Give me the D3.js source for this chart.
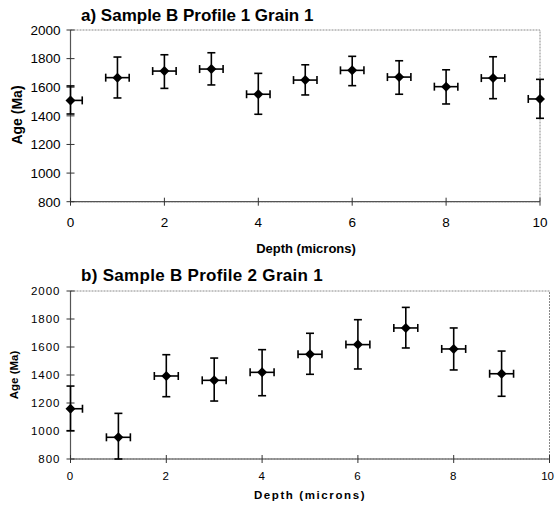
<!DOCTYPE html>
<html><head><meta charset="utf-8">
<script src="https://cdn.jsdelivr.net/npm/d3@7"></script>
<style>body{margin:0;background:#fff}svg{display:block}</style>
</head><body>
<svg id="c" width="555" height="506"></svg>
<script>
// Panel a) Sample B Profile 1 Grain 1
const depth1 = [0,1,2,3,4,5,6,7,8,9,10];
const age1   = [1508,1667,1713,1727,1551,1650,1718,1671,1604,1664,1518];
const hi1    = [1609,1811,1827,1841,1697,1757,1816,1785,1722,1813,1655];
const lo1    = [1413,1525,1592,1616,1411,1546,1611,1551,1483,1520,1383];
// Panel b) Sample B Profile 2 Grain 1
const depth2 = [0,1,2,3,4,5,6,7,8,9];
const age2   = [1159,955,1393,1362,1419,1548,1617,1736,1586,1409];
const hi2    = [1321,1126,1545,1521,1581,1698,1795,1883,1736,1571];
const lo2    = [1002,800,1245,1214,1252,1405,1443,1593,1436,1248];
const depthErr = 0.25;
const xTicks = [0,2,4,6,8,10];
const yTicks = [800,1000,1200,1400,1600,1800,2000];
const titles = ["a) Sample B Profile 1 Grain 1","b) Sample B Profile 2 Grain 1"];
const xTitle = "Depth (microns)", yTitle = "Age (Ma)";

const svg = d3.select("#c");
svg.append("rect").attr("width",555).attr("height",506).attr("fill","#fff");
const FONT = "Arial, 'Liberation Sans', sans-serif";

function panel(cfg){
  const {depth, age, hi, lo, x0, x1, y0, y1, title, titleX, titleY, tickFs, tickLs, tickW,
         xLabY, xTitleX, xTitleY, xTitleFs, xTitleLs, yTitleX, yTitleY, yTitleFs, titleFs, titleLs, lastEnd} = cfg;
  const x = d3.scaleLinear().domain([0,10]).range([x0,x1]);
  const y = d3.scaleLinear().domain([800,2000]).range([y1,y0]);
  const g = svg.append("g");
  // frame
  g.append("rect").attr("x",x0).attr("y",y0).attr("width",x1-x0).attr("height",y1-y0)
    .attr("fill","none").attr("stroke","#888").attr("stroke-width",1).attr("stroke-dasharray","2,1");
  // axes lines
  g.append("line").attr("x1",x0).attr("x2",x0).attr("y1",y0).attr("y2",y1).attr("stroke","#555").attr("stroke-width",1.2);
  g.append("line").attr("x1",x0).attr("x2",x1).attr("y1",y1).attr("y2",y1).attr("stroke","#555").attr("stroke-width",1.2);
  // y ticks
  yTicks.forEach(v=>{
    g.append("line").attr("x1",x0-4).attr("x2",x0+4).attr("y1",y(v)).attr("y2",y(v)).attr("stroke","#333").attr("stroke-width",1);
    g.append("text").attr("x",x0-10).attr("y",y(v)).attr("dy","0.36em").attr("text-anchor","end")
      .attr("font-family",FONT).attr("font-size",tickFs).attr("font-weight",tickW).attr("letter-spacing",tickLs)
      .attr("fill","#000").text(v);
  });
  xTicks.forEach(v=>{
    const endLab = lastEnd && v===10;
    g.append("line").attr("x1",x(v)).attr("x2",x(v)).attr("y1",y1-4).attr("y2",y1+4).attr("stroke","#333").attr("stroke-width",1);
    g.append("text").attr("x",endLab ? 554 : x(v)).attr("y",xLabY).attr("text-anchor",endLab ? "end" : "middle")
      .attr("font-family",FONT).attr("font-size",tickFs).attr("font-weight",tickW).attr("letter-spacing",endLab ? "0px" : tickLs)
      .attr("fill","#000").text(v);
  });
  // titles
  g.append("text").attr("x",titleX).attr("y",titleY).attr("font-family",FONT).attr("font-weight","bold")
    .attr("font-size",titleFs).attr("letter-spacing",titleLs).text(title);
  g.append("text").attr("x",xTitleX).attr("y",xTitleY).attr("text-anchor","middle").attr("font-family",FONT)
    .attr("font-weight","bold").attr("font-size",xTitleFs).attr("letter-spacing",xTitleLs).text(xTitle);
  g.append("text").attr("transform",`translate(${yTitleX},${yTitleY}) rotate(-90)`).attr("text-anchor","middle")
    .attr("dy","0.35em").attr("font-family",FONT).attr("font-weight","bold").attr("font-size",yTitleFs).text(yTitle);
  // error bars
  const cap = 4;
  const eb = g.append("g").attr("stroke","#000").attr("stroke-width",1.6).attr("fill","none");
  depth.forEach((d,i)=>{
    const cx = x(d), cy = y(age[i]);
    const yt = y(Math.min(hi[i],2000)), yb = y(Math.max(lo[i],800));
    eb.append("line").attr("x1",cx).attr("x2",cx).attr("y1",yt).attr("y2",yb);
    eb.append("line").attr("x1",cx-cap).attr("x2",cx+cap).attr("y1",yt).attr("y2",yt);
    eb.append("line").attr("x1",cx-cap).attr("x2",cx+cap).attr("y1",yb).attr("y2",yb);
    const l = d-depthErr, r = d+depthErr;
    const xl = x(Math.max(l,0)), xr = x(Math.min(r,10));
    eb.append("line").attr("x1",xl).attr("x2",xr).attr("y1",cy).attr("y2",cy);
    if (l>=0) eb.append("line").attr("x1",xl).attr("x2",xl).attr("y1",cy-cap).attr("y2",cy+cap);
    if (r<=10) eb.append("line").attr("x1",xr).attr("x2",xr).attr("y1",cy-cap).attr("y2",cy+cap);
  });
  // diamonds
  const s = 5;
  g.append("g").selectAll("path").data(depth).join("path")
    .attr("d",(d,i)=>{const cx=x(d), cy=y(age[i]); return `M${cx},${cy-s}L${cx+s},${cy}L${cx},${cy+s}L${cx-s},${cy}Z`;})
    .attr("fill","#000");
}

panel({depth:depth1, age:age1, hi:hi1, lo:lo1, x0:70.5, x1:540, y0:30, y1:201.7,
  title:titles[0], titleX:81, titleY:21, titleFs:"17px", titleLs:"0px",
  tickFs:"13.5px", tickLs:"0px", tickW:"normal", xLabY:227, lastEnd:false,
  xTitleX:306, xTitleY:253, xTitleFs:"13px", xTitleLs:"0px",
  yTitleX:17, yTitleY:115, yTitleFs:"14px"});
panel({depth:depth2, age:age2, hi:hi2, lo:lo2, x0:70.5, x1:549.5, y0:291, y1:459,
  title:titles[1], titleX:81, titleY:281, titleFs:"17px", titleLs:"0.3px",
  tickFs:"11.5px", tickLs:"1px", tickW:"normal", xLabY:480, lastEnd:true,
  xTitleX:310, xTitleY:499, xTitleFs:"11.5px", xTitleLs:"1.6px",
  yTitleX:13.5, yTitleY:375, yTitleFs:"11.5px"});
</script>
</body></html>
